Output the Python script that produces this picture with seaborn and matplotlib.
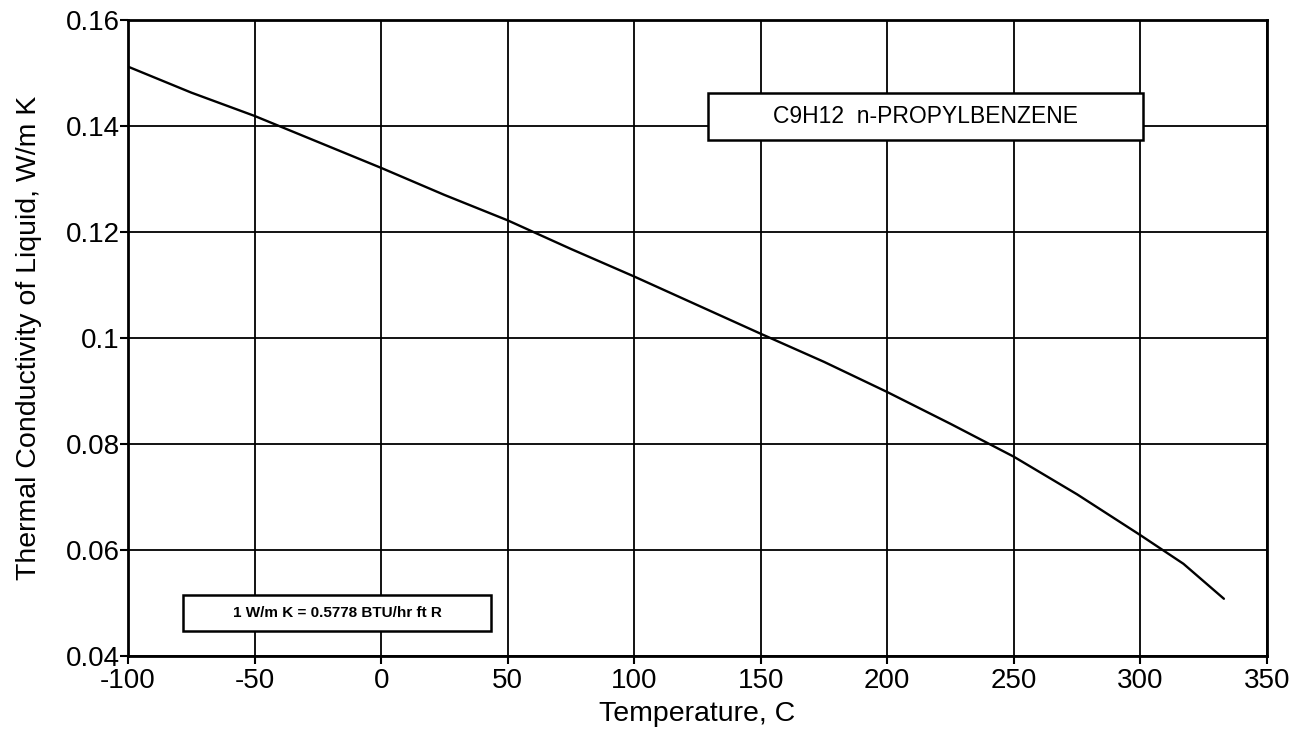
import matplotlib
matplotlib.use("Agg")
import matplotlib.pyplot as plt
import matplotlib.patches as mpatches
import seaborn as sns
import pandas as pd

temperature_c = [-100, -75, -50, -25, 0, 25, 50, 75, 100, 125, 150, 175, 200,
                 225, 250, 275, 300, 317, 333]
conductivity = [0.1512, 0.1463, 0.1419, 0.1370, 0.1321, 0.1270, 0.1222, 0.1168,
                0.1116, 0.1062, 0.1008, 0.0955, 0.0898, 0.0838, 0.0776, 0.0705,
                0.0628, 0.0574, 0.0508]
x_ticks = [-100, -50, 0, 50, 100, 150, 200, 250, 300, 350]
y_ticks = [0.04, 0.06, 0.08, 0.10, 0.12, 0.14, 0.16]
y_tick_labels = ["0.04", "0.06", "0.08", "0.1", "0.12", "0.14", "0.16"]
title_text = "C9H12  n-PROPYLBENZENE"
note_text = "1 W/m K = 0.5778 BTU/hr ft R"

sns.set_style("white")
plt.rcParams['font.family'] = ['Liberation Sans', 'DejaVu Sans']
plt.rcParams['text.color'] = 'black'
plt.rcParams['axes.labelcolor'] = 'black'
plt.rcParams['xtick.color'] = 'black'
plt.rcParams['ytick.color'] = 'black'

df = pd.DataFrame({"T": temperature_c, "k": conductivity})

fig = plt.figure(figsize=(13.08, 7.36), dpi=100)
ax = fig.add_axes([0.0979, 0.1087, 0.8707, 0.8641])

sns.lineplot(data=df, x="T", y="k", ax=ax, color="black", linewidth=1.7, zorder=5)

ax.set_xlim(-100, 350)
ax.set_ylim(0.04, 0.16)
ax.set_xticks(x_ticks)
ax.set_xticklabels([str(t) for t in x_ticks])
ax.set_yticks(y_ticks)
ax.set_yticklabels(y_tick_labels)
ax.grid(True, color="black", linewidth=1.3)
ax.set_axisbelow(True)
for s in ax.spines.values():
    s.set_color("black")
    s.set_linewidth(2)
ax.tick_params(axis="both", direction="out", length=6, width=1.5, color="black",
               labelcolor="black", labelsize=20, bottom=True, left=True)
ax.tick_params(axis="x", pad=3)
ax.tick_params(axis="y", pad=0)

ax.set_xlabel("Temperature, C", fontsize=20.5, labelpad=5, color="black")
ax.set_ylabel("Thermal Conductivity of Liquid, W/m K", fontsize=20.5, labelpad=17,
              color="black")

# title box
r1 = mpatches.Rectangle((0.509, 0.811), 0.382, 0.074, transform=ax.transAxes,
                        facecolor="white", edgecolor="black", linewidth=1.8, zorder=6)
ax.add_patch(r1)
ax.text(0.700, 0.848, title_text, transform=ax.transAxes, ha="center", va="center",
        fontsize=16.5, color="black", zorder=7)

# note box
r2 = mpatches.Rectangle((0.048, 0.039), 0.271, 0.057, transform=ax.transAxes,
                        facecolor="white", edgecolor="black", linewidth=1.8, zorder=6)
ax.add_patch(r2)
ax.text(0.1835, 0.0675, note_text, transform=ax.transAxes, ha="center", va="center",
        fontsize=11, fontweight="bold", color="black", zorder=7)

fig.savefig("out.png", dpi=100)
